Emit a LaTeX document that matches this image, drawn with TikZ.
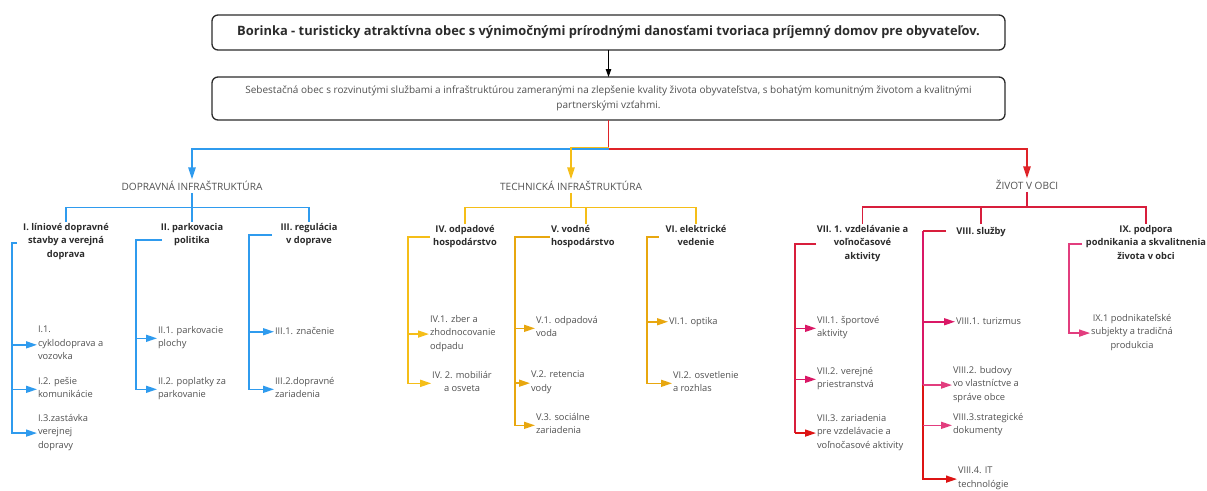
\documentclass[tikz,border=0pt]{standalone}
\usepackage{fontspec}
\setmainfont{Open Sans}
\usetikzlibrary{arrows.meta,calc}
\definecolor{cblue}{HTML}{2F9BEE}
\definecolor{cyel}{HTML}{F5BE18}
\definecolor{cgold}{HTML}{E8A70F}
\definecolor{cred}{HTML}{DF2328}
\definecolor{ccrim}{HTML}{D81E3C}
\definecolor{cmag}{HTML}{DA1866}
\definecolor{cpink}{HTML}{E23D7E}
\definecolor{cdeep}{HTML}{DD1414}
\definecolor{ctext}{HTML}{505050}
\definecolor{cdark}{HTML}{2B2B2B}
\begin{document}
\begin{tikzpicture}[x=1pt,y=-1pt,
 every node/.style={inner sep=0pt,outer sep=0pt},
 box/.style={draw=cdark,line width=1.3pt,rounded corners=6pt},
 leaf/.style={font=\fontsize{9.3}{13.5}\selectfont,text=ctext,align=left,anchor=north west,inner sep=1pt,
   execute at begin node=\strut,execute at end node=\strut},
 leafc/.style={leaf,align=center,anchor=north},
 grp/.style={font=\fontsize{9.3}{13.5}\selectfont\bfseries,text=cdark,align=center,anchor=north,inner sep=1pt,
   execute at begin node=\strut,execute at end node=\strut},
 cat/.style={font=\fontsize{10.1}{12}\selectfont,text=ctext,inner sep=2pt},
 ln/.style={line width=1.5pt},
 tip/.style={-{Triangle[length=11pt,width=7pt]}},
 ctip/.style={-{Triangle[length=12pt,width=7.5pt]}},
]
\useasboundingbox (0,0) rectangle (1207,490);

% top boxes
\node[box,minimum width=793pt,minimum height=35pt,font=\fontsize{12.9}{15}\selectfont\bfseries,text=cdark]
  (title) at (608.5,32.5) {Borinka - turisticky atraktívna obec s výnimočnými prírodnými danosťami tvoriaca príjemný domov pre obyvateľov.};
\node[box,minimum width=793pt,minimum height=43pt,align=center,font=\fontsize{10}{15}\selectfont,text=ctext]
  (vision) at (608.5,98.5) {Sebestačná obec s rozvinutými službami a infraštruktúrou zameranými na zlepšenie kvality života obyvateľstva, s bohatým komunitným životom a kvalitnými\\partnerskými vzťahmi.};
\draw[line width=0.9pt,black,-{Triangle[length=8pt,width=5.5pt]}] (title.south) -- (vision.north);

% categories
\node[cat] (catD) at (192,186) {DOPRAVNÁ INFRAŠTRUKTÚRA};
\node[cat] (catT) at (571,186) {TECHNICKÁ INFRAŠTRUKTÚRA};
\node[cat] (catZ) at (1027,185) {ŽIVOT V OBCI};

\coordinate (jj) at (608.5,149);
\coordinate (jy) at (608.5,147.5);
\draw[ln,cred] (vision.south) -- (jj);
\draw[ln,cblue,ctip] (jj) -| (catD.north);
\draw[ln,cyel,ctip] (jy) -| (catT.north);
\draw[ln,cred,ctip] (jj) -| (catZ.north);

% group titles
\node[grp] (gI) at (66,222) {I. líniové dopravné\\stavby a verejná\\doprava};
\node[grp] (gII) at (192,222) {II. parkovacia\\politika};
\node[grp] (gIII) at (309,222) {III. regulácia\\v doprave};
\node[grp] (gIV) at (465,224) {IV. odpadové\\hospodárstvo};
\node[grp,align=left,anchor=north west] (gV) at (550,224) {V. vodné\\hospodárstvo};
\node[grp] (gVI) at (696,224) {VI. elektrické\\vedenie};
\node[grp] (gVII) at (862.5,224) {VII. 1. vzdelávanie a\\voľnočasové\\aktivity};
\node[grp] (gVIII) at (981,224) {VIII. služby};
\node[grp] (gIX) at (1146,224) {IX. podpora\\podnikania a skvalitnenia\\života v obci};

% buses
\coordinate (bD) at (192,207.5);
\coordinate (bT) at (571,207.5);
\coordinate (bZ) at (1027,207);
\coordinate (dV) at (586,224);
\draw[ln,cblue] (catD.south) -- (bD);
\draw[ln,cblue] (gI.north) -- (gI.north |- bD) -- (gIII.north |- bD) -- (gIII.north);
\draw[ln,cblue] (bD) -- (gII.north);
\draw[ln,cyel] (catT.south) -- (bT);
\draw[ln,cyel] (gIV.north) -- (gIV.north |- bT) -- (gVI.north |- bT) -- (gVI.north);
\draw[ln,cyel] (dV |- bT) -- (dV);
\draw[ln,ccrim] (catZ.south) -- (bZ);
\draw[ln,ccrim] (gVII.north) -- (gVII.north |- bZ) -- (gIX.north |- bZ) -- (gIX.north);
\draw[ln,ccrim] (gVIII.north |- bZ) -- (gVIII.north);

% leaves
\node[leaf] (c11) at (37,325) {I.1.\\cyklodoprava a\\vozovka};
\node[leaf] (c12) at (37,376) {I.2. pešie\\komunikácie};
\node[leaf] (c13) at (37,413) {I.3.zastávka\\verejnej\\dopravy};
\node[leaf] (c21) at (157,325) {II.1. parkovacie\\plochy};
\node[leaf] (c22) at (157,376) {II.2. poplatky za\\parkovanie};
\node[leaf] (c31) at (274,324) {III.1. značenie};
\node[leaf] (c32) at (274,376) {III.2.dopravné\\zariadenia};
\node[leaf] (c41) at (429,314) {IV.1. zber a\\zhodnocovanie\\odpadu};
\node[leafc] (c42) at (462,370) {IV. 2. mobiliár\\a osveta};
\node[leaf] (c51) at (535,315) {V.1. odpadová\\voda};
\node[leaf] (c52) at (530,370) {V.2. retencia\\vody};
\node[leaf] (c53) at (535,412) {V.3. sociálne\\zariadenia};
\node[leaf] (c61) at (668,314) {VI.1. optika};
\node[leaf] (c62) at (672,370) {VI.2. osvetlenie\\a rozhlas};
\node[leaf] (c71) at (816,315) {VII.1. športové\\aktivity};
\node[leaf] (c72) at (816,366) {VII.2. verejné\\priestranstvá};
\node[leaf] (c73) at (816,413) {VII.3. zariadenia\\pre vzdelávacie a\\voľnočasové aktivity};
\node[leaf] (c81) at (955,314) {VIII.1. turizmus};
\node[leaf] (c82) at (952,365) {VIII.2. budovy\\vo vlastníctve a\\správe obce};
\node[leaf] (c83) at (952,412) {VIII.3.strategické\\dokumenty};
\node[leaf] (c84) at (957,466) {VIII.4. IT\\technológie};
\node[leafc] (c91) at (1132,313) {IX.1 podnikateľské\\subjekty a tradičná\\produkcia};

% rails
\coordinate (sI) at (17,243);   \coordinate (rI) at (12,243);
\coordinate (sII) at (162,240); \coordinate (rII) at (136,240);
\coordinate (sIII) at (272,235);\coordinate (rIII) at (249,235);
\coordinate (sIV) at (430,237); \coordinate (rIV) at (408,237);
\coordinate (sV) at (550,237);  \coordinate (rV) at (515,237);
\coordinate (sVI) at (659,237); \coordinate (rVI) at (647,237);
\coordinate (sVII) at (816,244);\coordinate (rVII) at (795,244);
\coordinate (sVIII) at (946,231);\coordinate (rVIII) at (923,231);
\coordinate (sIX) at (1082,244);\coordinate (rIX) at (1069,244);

\draw[ln,cblue,tip] (sI) -- (rI) |- (c13.west);
\draw[ln,cblue,tip] (rI |- c11.west) -- (c11.west);
\draw[ln,cblue,tip] (rI |- c12.west) -- (c12.west);
\draw[ln,cblue,tip] (sII) -- (rII) |- (c22.west);
\draw[ln,cblue,tip] (rII |- c21.west) -- (c21.west);
\draw[ln,cblue,tip] (sIII) -- (rIII) |- (c32.west);
\draw[ln,cblue,tip] (rIII |- c31.west) -- (c31.west);

\draw[ln,cyel,tip] (sIV) -- (rIV) |- (c42.west);
\draw[ln,cyel,tip] (rIV |- c41.west) -- (c41.west);
\draw[ln,cgold,tip] (sV) -- (rV) |- (c53.west);
\draw[ln,cgold,tip] (rV |- c51.west) -- (c51.west);
\draw[ln,cgold,tip] (rV |- c52.west) -- (c52.west);
\draw[ln,cgold,tip] (sVI) -- (rVI) |- (c62.west);
\draw[ln,cgold,tip] (rVI |- c61.west) -- (c61.west);

\draw[ln,ccrim] (sVII) -- (rVII) -- (rVII |- c73.west);
\draw[ln,cdeep,tip] (rVII |- c73.west) -- (c73.west);
\draw[ln,cmag,tip] (rVII |- c71.west) -- (c71.west);
\draw[ln,cmag,tip] (rVII |- c72.west) -- (c72.west);

\draw[ln,cdeep,tip] (rVIII) |- (c84.west);
\draw[line width=2.6pt,cmag] (rVIII) -- (rVIII |- c82.west);
\draw[ln,ccrim] (sVIII) -- (rVIII);
\draw[ln,cmag,tip] (rVIII |- c81.west) -- (c81.west);
\draw[ln,cpink,tip] (rVIII |- c82.west) -- (c82.west);
\draw[ln,cpink,tip] (rVIII |- c83.west) -- (c83.west);

\draw[ln,cpink,tip] (sIX) -- (rIX) |- (c91.west);
\end{tikzpicture}
\end{document}
